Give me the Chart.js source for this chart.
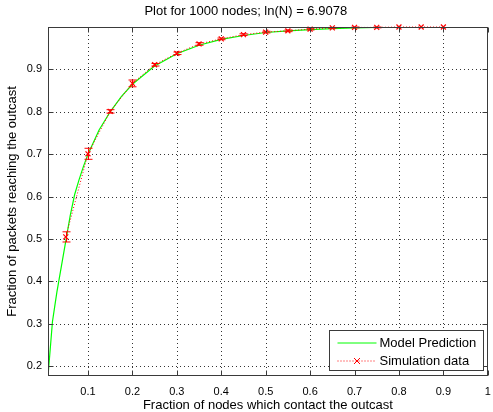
<!DOCTYPE html>
<html>
<head>
<meta charset="utf-8">
<script src="https://cdn.jsdelivr.net/npm/chart.js@4/dist/chart.umd.min.js"></script>
<style>
  html, body { margin: 0; padding: 0; background: #fff; }
  #wrap { width: 493px; height: 412px; }
</style>
</head>
<body>
<div id="wrap"><canvas id="c" width="493" height="412"></canvas></div>
<script>
// ---- data ----
const titleText = 'Plot for 1000 nodes; ln(N) = 6.9078';
const xTitle = 'Fraction of nodes which contact the outcast';
const yTitle = 'Fraction of packets reaching the outcast';

const modelX = [0.01, 0.015, 0.02, 0.025, 0.03, 0.035, 0.04, 0.05, 0.06, 0.07, 0.08, 0.09, 0.1, 0.125, 0.15, 0.175, 0.2, 0.25, 0.3, 0.35, 0.4, 0.45, 0.5, 0.55, 0.6, 0.65, 0.7, 0.75];
const modelY = [0.177, 0.24, 0.305, 0.34, 0.375, 0.405, 0.435, 0.495, 0.555, 0.605, 0.64, 0.672, 0.70, 0.757, 0.80, 0.836, 0.865, 0.908, 0.937, 0.957, 0.971, 0.98, 0.987, 0.991, 0.994, 0.996, 0.998, 0.999];

const simX = [0.05, 0.1, 0.15, 0.2, 0.25, 0.3, 0.35, 0.4, 0.45, 0.5, 0.55, 0.6, 0.65, 0.7, 0.75, 0.8, 0.85, 0.9];
const simY = [0.505, 0.701, 0.801, 0.867, 0.911, 0.938, 0.960, 0.972, 0.982, 0.988, 0.991, 0.995, 0.998, 0.999, 0.999, 1.0, 1.0, 1.0];
const simErr = [0.012, 0.013, 0.004, 0.008, 0.003, 0.003, 0.003, 0.002, 0.002, 0.002, 0.002, 0.002, 0.001, 0.001, 0.001, 0, 0, 0];

const xTicks = [0.1, 0.2, 0.3, 0.4, 0.5, 0.6, 0.7, 0.8, 0.9, 1];
const xTickLabels = ['0.1', '0.2', '0.3', '0.4', '0.5', '0.6', '0.7', '0.8', '0.9', '1'];
const yTicks = [0.2, 0.3, 0.4, 0.5, 0.6, 0.7, 0.8, 0.9];
const yTickLabels = ['0.2', '0.3', '0.4', '0.5', '0.6', '0.7', '0.8', '0.9'];
const xRange = [0.01, 1];
const yRange = [0.177, 1];
const seriesNames = ['Model Prediction', 'Simulation data'];

// ---- styles ----
const FONT = '"Liberation Sans", Arial, Helvetica, sans-serif';
const GREEN = '#00ff00';
const RED = '#ff0000';

const modelData = modelX.map((x, i) => ({ x: x, y: modelY[i] }));
const simData = simX.map((x, i) => ({ x: x, y: simY[i] }));

const matlabAxes = {
  id: 'matlabAxes',
  beforeDatasetsDraw(chart) {
    const { ctx, chartArea: a, scales: { x, y } } = chart;
    ctx.save();
    ctx.strokeStyle = 'rgba(0,0,0,0.8)';
    ctx.lineWidth = 1;
    ctx.setLineDash([1, 3]);
    xTicks.forEach(v => {
      const px = Math.round(x.getPixelForValue(v)) + 0.5;
      if (px > a.right - 1) return;
      ctx.beginPath(); ctx.moveTo(px, a.bottom); ctx.lineTo(px, a.top); ctx.stroke();
    });
    yTicks.forEach(v => {
      const py = Math.round(y.getPixelForValue(v)) + 0.5;
      ctx.beginPath(); ctx.moveTo(a.left, py); ctx.lineTo(a.right, py); ctx.stroke();
    });
    ctx.restore();
  },
  afterDatasetsDraw(chart) {
    const { ctx, chartArea: a, scales: { x, y } } = chart;
    ctx.save();
    // error bars
    ctx.strokeStyle = RED;
    ctx.lineWidth = 1;
    simX.forEach((xv, i) => {
      if (!simErr[i]) return;
      const px = Math.round(x.getPixelForValue(xv)) + 0.5;
      const yt = y.getPixelForValue(simY[i] + simErr[i]);
      const yb = y.getPixelForValue(simY[i] - simErr[i]);
      ctx.beginPath();
      ctx.moveTo(px, yt); ctx.lineTo(px, yb);
      ctx.moveTo(px - 4, yt); ctx.lineTo(px + 4, yt);
      ctx.moveTo(px - 4, yb); ctx.lineTo(px + 4, yb);
      ctx.stroke();
    });
    // box + inward ticks
    ctx.strokeStyle = '#3a3a3a';
    ctx.lineWidth = 1;
    const L = Math.round(a.left) + 0.5, R = Math.round(a.right) - 0.5;
    const T = Math.round(a.top) + 0.5, B = Math.round(a.bottom) - 0.5;
    ctx.strokeRect(L, T, R - L, B - T);
    ctx.beginPath();
    xTicks.forEach(v => {
      const px = Math.round(x.getPixelForValue(v)) + 0.5;
      ctx.moveTo(px, B); ctx.lineTo(px, B - 5);
      ctx.moveTo(px, T); ctx.lineTo(px, T + 5);
    });
    yTicks.forEach(v => {
      const py = Math.round(y.getPixelForValue(v)) + 0.5;
      ctx.moveTo(L, py); ctx.lineTo(L + 5, py);
      ctx.moveTo(R, py); ctx.lineTo(R - 5, py);
    });
    ctx.stroke();

    // legend
    const ds = chart.data.datasets;
    const bw = 154, bh = 40;
    const bx = Math.round(a.right - 4.5 - bw) + 0.5;
    const by = Math.round(a.bottom - 6 - bh) + 0.5;
    ctx.fillStyle = '#fff';
    ctx.fillRect(bx, by, bw, bh);
    ctx.strokeStyle = '#3a3a3a';
    ctx.strokeRect(bx, by, bw, bh);
    ctx.font = '13px ' + FONT;
    ctx.fillStyle = '#000';
    ctx.textBaseline = 'middle';
    ctx.textAlign = 'left';
    const rows = [by + 12.5, by + 30.5];
    ctx.strokeStyle = ds[0].borderColor;
    ctx.lineWidth = 1;
    ctx.beginPath(); ctx.moveTo(bx + 8, rows[0]); ctx.lineTo(bx + 47, rows[0]); ctx.stroke();
    ctx.fillText(ds[0].label, bx + 50, rows[0]);
    ctx.strokeStyle = ds[1].borderColor;
    ctx.setLineDash([1, 2]);
    ctx.beginPath(); ctx.moveTo(bx + 8, rows[1]); ctx.lineTo(bx + 47, rows[1]); ctx.stroke();
    ctx.setLineDash([]);
    const mx = bx + 27.5, my = rows[1], r = 3;
    ctx.beginPath();
    ctx.moveTo(mx - r, my - r); ctx.lineTo(mx + r, my + r);
    ctx.moveTo(mx - r, my + r); ctx.lineTo(mx + r, my - r);
    ctx.stroke();
    ctx.fillText(ds[1].label, bx + 50, rows[1]);
    ctx.restore();
  }
};

new Chart(document.getElementById('c'), {
  type: 'scatter',
  data: {
    datasets: [
      {
        label: seriesNames[0],
        data: modelData,
        showLine: true,
        borderColor: GREEN,
        backgroundColor: GREEN,
        borderWidth: 1.2,
        pointRadius: 0,
        tension: 0,
        order: 2
      },
      {
        label: seriesNames[1],
        data: simData,
        showLine: true,
        borderColor: RED,
        backgroundColor: RED,
        borderWidth: 1,
        borderDash: [1, 2],
        pointStyle: 'crossRot',
        pointRadius: 3.5,
        pointBorderWidth: 1.2,
        pointBorderColor: RED,
        clip: false,
        order: 1
      }
    ]
  },
  options: {
    responsive: false,
    animation: false,
    devicePixelRatio: 1,
    layout: { padding: { left: 0, right: 1.5, top: 0, bottom: 0 } },
    plugins: {
      legend: { display: false },
      tooltip: { enabled: false },
      title: {
        display: true,
        text: titleText,
        color: '#000',
        font: { family: FONT, size: 13, weight: 'normal', lineHeight: 1.2 },
        padding: { top: 4, bottom: 7.4 }
      }
    },
    scales: {
      x: {
        type: 'linear',
        min: xRange[0], max: xRange[1],
        afterBuildTicks: s => { s.ticks = xTicks.map(v => ({ value: v })); },
        afterFit: s => { s.height = 36; s.paddingLeft = 0; s.paddingRight = 0; },
        grid: { display: false, drawTicks: false },
        border: { display: false },
        ticks: {
          color: '#000',
          padding: 9,
          maxRotation: 0,
          autoSkip: false,
          font: { family: FONT, size: 11 },
          callback: (v, i) => xTickLabels[xTicks.indexOf(v)] ?? ''
        },
        title: {
          display: true, text: xTitle, color: '#000',
          font: { family: FONT, size: 13, lineHeight: 1 },
          padding: { top: 0, bottom: 0 }
        }
      },
      y: {
        type: 'linear',
        min: yRange[0], max: yRange[1],
        afterBuildTicks: s => { s.ticks = yTicks.map(v => ({ value: v })); },
        afterFit: s => { s.width = 48; s.paddingTop = 0; s.paddingBottom = 0; },
        grid: { display: false, drawTicks: false },
        border: { display: false },
        ticks: {
          color: '#000',
          padding: 6,
          autoSkip: false,
          font: { family: FONT, size: 11 },
          callback: (v, i) => yTickLabels[yTicks.indexOf(v)] ?? ''
        },
        title: {
          display: true, text: yTitle, color: '#000',
          font: { family: FONT, size: 13, lineHeight: 1 },
          padding: { top: 6, bottom: 0 }
        }
      }
    }
  },
  plugins: [matlabAxes]
});
</script>
</body>
</html>
